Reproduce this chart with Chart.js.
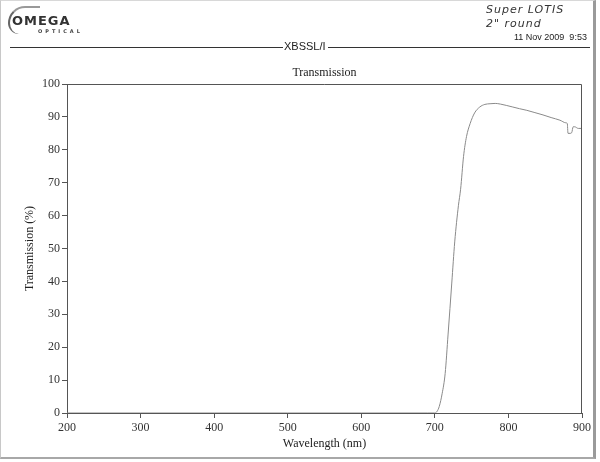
<!DOCTYPE html>
<html>
<head>
<meta charset="utf-8">
<script src="https://cdn.jsdelivr.net/npm/chart.js@4/dist/chart.umd.min.js"></script>
<style>
  html,body{margin:0;padding:0;background:#fff;}
  #page{position:relative;width:600px;height:462px;overflow:hidden;background:#fff;}
  #frame{position:absolute;left:0;top:0;width:596px;height:459px;border-left:1px solid #c8c8c8;border-top:1px solid #d8d8d8;border-right:3px solid #9a9a9a;border-bottom:2px solid #a8a8a8;box-sizing:border-box;}
  canvas{position:absolute;left:0;top:0;}
  .t{position:absolute;white-space:nowrap;color:#222;}
</style>
</head>
<body>
<div id="page">
  <div id="frame"></div>
  <canvas id="c" width="600" height="462"></canvas>
  <div class="t" style="left:8px;top:6px;width:30px;height:26px;border-left:2px solid #666;border-top:2px solid #999;border-radius:22px 0 0 14px;"></div>
  <div class="t" style="left:12px;top:13px;font:bold 13px 'DejaVu Sans',sans-serif;letter-spacing:1px;color:#333;">OMEGA</div>
  <div class="t" style="left:38px;top:28px;font:bold 5px 'DejaVu Sans',sans-serif;letter-spacing:3px;color:#444;">OPTICAL</div>
  <div class="t" style="left:486px;top:3px;font:italic 11px 'DejaVu Sans',sans-serif;letter-spacing:1px;color:#333;">Super LOTIS</div>
  <div class="t" style="left:486px;top:17px;font:italic 11px 'DejaVu Sans',sans-serif;letter-spacing:1px;color:#333;">2" round</div>
  <div class="t" style="left:514px;top:32px;font:9px 'Liberation Sans',Arial,sans-serif;color:#222;">11 Nov 2009&nbsp;&nbsp;9:53</div>
  <div class="t" style="left:10px;top:47px;width:273px;height:0;border-top:1.5px solid #333;"></div>
  <div class="t" style="left:284px;top:40px;font:11px 'Liberation Sans',Arial,sans-serif;color:#222;">XBSSL/I</div>
  <div class="t" style="left:328px;top:47px;width:262px;height:0;border-top:1.5px solid #333;"></div>
</div>
<script>
const wavelength = [200, 300, 400, 500, 600, 690, 700, 703, 706, 710, 714, 718, 723, 727, 732, 735, 739, 743, 748, 754, 761, 768, 775, 782, 789, 797, 806, 815, 825, 836, 847, 858, 870, 878, 880, 881, 884, 886, 888, 890, 895, 900];
const transmission = [0, 0, 0, 0, 0, 0, 0, 0.5, 2, 6, 12, 24, 39.5, 52, 63, 68, 78, 84, 88, 91.2, 93, 93.8, 94, 94.1, 93.9, 93.5, 93, 92.5, 92, 91.3, 90.6, 89.8, 89, 88.2, 88, 85, 85, 85.2, 87, 87, 86.5, 86.5];
const xTicks = [200, 300, 400, 500, 600, 700, 800, 900];
const yTicks = [0, 10, 20, 30, 40, 50, 60, 70, 80, 90, 100];

const serif = "'Liberation Serif','DejaVu Serif',serif";

const frameBox = {
  id: 'frameBox',
  afterDraw(chart) {
    const {ctx, chartArea: a} = chart;
    ctx.save();
    ctx.strokeStyle = '#555';
    ctx.lineWidth = 1;
    ctx.beginPath();
    ctx.moveTo(a.left, a.top + 0.5);
    ctx.lineTo(a.right - 0.5, a.top + 0.5);
    ctx.lineTo(a.right - 0.5, a.bottom);
    ctx.stroke();
    ctx.restore();
  }
};

new Chart(document.getElementById('c'), {
  type: 'line',
  data: {
    datasets: [{
      data: wavelength.map((w, i) => ({x: w, y: transmission[i]})),
      borderColor: '#8a8a8a',
      borderWidth: 1,
      pointRadius: 0,
      cubicInterpolationMode: 'monotone',
      fill: false
    }]
  },
  options: {
    responsive: false,
    animation: false,
    devicePixelRatio: 1,
    layout: {padding: {left: 0, right: 18, top: 65.6, bottom: 0}},
    plugins: {
      legend: {display: false},
      tooltip: {enabled: false},
      title: {
        display: true,
        text: 'Transmission',
        fullSize: false,
        color: '#222',
        font: {family: serif, size: 12, weight: 'normal', lineHeight: 1.2},
        padding: {top: 0, bottom: 4}
      }
    },
    scales: {
      x: {
        type: 'linear',
        min: 200, max: 900,
        afterBuildTicks(s) { s.ticks = xTicks.map(v => ({value: v})); },
        afterFit(s) { s.height = 49; },
        border: {display: true, color: '#555', width: 1},
        grid: {drawOnChartArea: false, drawTicks: true, tickLength: 5, color: '#555'},
        ticks: {color: '#333', font: {family: serif, size: 12}, padding: 3, maxRotation: 0, autoSkip: false},
        title: {display: true, text: 'Wavelength (nm)', color: '#222', font: {family: serif, size: 12}, padding: {top: 0, bottom: 11}}
      },
      y: {
        type: 'linear',
        min: 0, max: 100,
        afterBuildTicks(s) { s.ticks = yTicks.map(v => ({value: v})); },
        afterFit(s) { s.width = 67; },
        border: {display: true, color: '#555', width: 1},
        grid: {drawOnChartArea: false, drawTicks: true, tickLength: 5, color: '#555'},
        ticks: {color: '#333', font: {family: serif, size: 12}, padding: 2, autoSkip: false},
        title: {display: true, text: 'Transmission (%)', color: '#222', font: {family: serif, size: 12}, padding: {top: 23, bottom: 0}}
      }
    }
  },
  plugins: [frameBox]
});
</script>
</body>
</html>
